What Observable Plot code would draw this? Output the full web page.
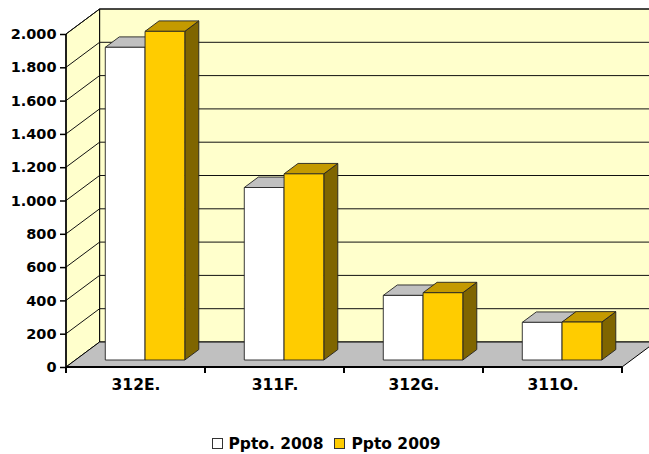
<!DOCTYPE html>
<html>
<head>
<meta charset="utf-8">
<script src="https://cdn.jsdelivr.net/npm/d3@7"></script>
<script src="https://cdn.jsdelivr.net/npm/@observablehq/plot@0.6"></script>
<style>
  html, body { margin: 0; padding: 0; background: #fff; overflow: hidden; }
  #chart svg { display: block; }
  .legend { display: flex; justify-content: center; align-items: center; margin-top: 25px; height: 17px;
            font-family: "DejaVu Sans", sans-serif; font-weight: bold; font-size: 15.5px; color: #000; padding-left: 14px; }
  .sw { width: 11px; height: 11px; box-sizing: border-box; border: 1px solid #333; margin-right: 6px; }
  .item { display: flex; align-items: center; margin-right: 11px; }
</style>
</head>
<body>
<div id="chart"></div>
<script>
// ---- data ----
const categories = ["312E.", "311F.", "312G.", "311O."];
const seriesNames = ["Ppto. 2008", "Ppto 2009"];
const ppto2008 = [1878, 1036, 388, 226];
const ppto2009 = [1974, 1118, 404, 228];
const yTicks = [0, 200, 400, 600, 800, 1000, 1200, 1400, 1600, 1800, 2000];

// ---- styles ----
const faceColors = [
  {front: "#FFFFFF", top: "#C0C0C0", side: "#808080"},
  {front: "#FFCC00", top: "#C49A00", side: "#7F6500"}
];
const wallFill = "#FFFFCC";
const floorFill = "#C0C0C0";

const seriesValues = [ppto2008, ppto2009];

function scene(index, scales, values, dims) {
  const x = scales.x, y = scales.y;
  let bw = typeof x.bandwidth === "function" ? x.bandwidth() : x.bandwidth;
  if (!bw) bw = (dims.width - dims.marginLeft - dims.marginRight) / categories.length;
  const x0 = x(categories[0]);
  const x1 = x(categories[categories.length - 1]) + bw;
  const DX = 33.6, DY = 25;
  const P = (px, v, t) => [px + t * DX, y(v) - t * DY];
  const g = d3.create("svg:g");
  const poly = (pts, fill, stroke = "#000", sw = 1) =>
    g.append("polygon")
      .attr("points", pts.map(p => p.join(",")).join(" "))
      .attr("fill", fill).attr("stroke", stroke).attr("stroke-width", sw)
      .attr("stroke-linejoin", "round");
  const line = (pts, stroke = "#000", sw = 1) =>
    g.append("polyline")
      .attr("points", pts.map(p => p.join(",")).join(" "))
      .attr("fill", "none").attr("stroke", stroke).attr("stroke-width", sw);

  const vmax = yTicks[yTicks.length - 1];
  // back wall
  poly([P(x0, vmax, 1), P(x1, vmax, 1), P(x1, 0, 1), P(x0, 0, 1)], wallFill);
  // side wall
  poly([P(x0, 0, 0), P(x0, vmax, 0), P(x0, vmax, 1), P(x0, 0, 1)], wallFill);
  // floor
  poly([P(x0, 0, 0), P(x1, 0, 0), P(x1, 0, 1), P(x0, 0, 1)], floorFill);
  // gridlines
  for (const v of yTicks) {
    if (v === 0) continue;
    line([P(x0, v, 0), P(x0, v, 1), P(x1, v, 1)], "#111", 1);
  }
  // bars
  const t0 = 0.28, t1 = 0.697;
  const w = bw * 0.286, off = bw * 0.215;
  categories.forEach((c, i) => {
    seriesValues.forEach((vals, s) => {
      const v = vals[i];
      const xl = x(c) + off + s * w, xr = xl + w;
      const col = faceColors[s];
      poly([P(xr, 0, t0), P(xr, 0, t1), P(xr, v, t1), P(xr, v, t0)], col.side, "#222", 0.9);
      poly([P(xl, v, t0), P(xr, v, t0), P(xr, v, t1), P(xl, v, t1)], col.top, "#222", 0.9);
      poly([P(xl, 0, t0), P(xr, 0, t0), P(xr, v, t0), P(xl, v, t0)], col.front, "#222", 0.9);
    });
  });
  // front axis lines
  line([P(x0, vmax, 0), P(x0, 0, 0)], "#000", 1.5);
  line([P(x0, 0, 0), P(x1, 0, 0)], "#000", 2);
  const bounds = categories.map(c => x(c)).concat([x1]);
  for (const bx of bounds) {
    line([[bx, y(0)], [bx, y(0) + 6]], "#000", 2);
  }
  return g.node();
}

const plot = Plot.plot({
  width: 649,
  height: 410,
  marginLeft: 66,
  marginRight: 27,
  marginTop: 34,
  marginBottom: 43,
  style: {fontFamily: "DejaVu Sans, sans-serif", color: "#000", background: "#fff", overflow: "hidden"},
  x: {type: "band", domain: categories, padding: 0, label: null},
  y: {domain: [0, 2000], label: null},
  marks: [
    scene,
    Plot.axisY({ticks: yTicks, tickSize: 6, tickPadding: 4, strokeWidth: 1.5,
      tickFormat: d => d3.format(",")(d).replace(/,/g, "."),
      fontSize: 14.5, fontWeight: "bold", label: null}),
    Plot.axisX({tickSize: 0, tickPadding: 11, fontSize: 15.5, fontWeight: "bold", label: null})
  ]
});
document.getElementById("chart").appendChild(plot);

const legend = document.createElement("div");
legend.className = "legend";
seriesNames.forEach((name, s) => {
  const item = document.createElement("div");
  item.className = "item";
  const sw = document.createElement("div");
  sw.className = "sw";
  sw.style.background = faceColors[s].front;
  item.appendChild(sw);
  const t = document.createElement("span");
  t.textContent = name;
  item.appendChild(t);
  legend.appendChild(item);
});
document.body.appendChild(legend);
</script>
</body>
</html>
